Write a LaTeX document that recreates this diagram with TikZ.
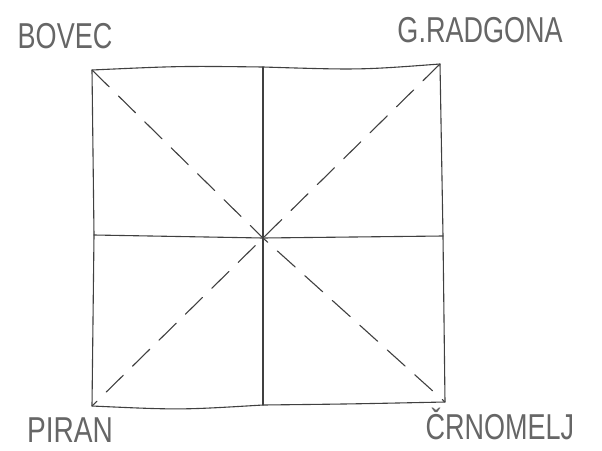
\documentclass[tikz,border=0pt]{standalone}
\usepackage{fontspec}
\setmainfont{Liberation Sans}
\begin{document}
\begin{tikzpicture}[x=1pt,y=-1pt,
  edge/.style={draw=black!75,line width=1.1pt,line cap=round,line join=round},
  diag/.style={draw=black!75,line width=1.1pt,dash pattern=on 24pt off 13pt,line cap=round},
  town/.style={text=black!60,font=\fontsize{36}{36}\selectfont,inner sep=0pt}]
\useasboundingbox[fill=white] (0,0) rectangle (602,450);
\coordinate (tl) at (92,70);
\coordinate (tr) at (440,64);
\coordinate (bl) at (92,406);
\coordinate (br) at (445,402);
\coordinate (c) at (263,238);
\coordinate (tm) at (263,67);
\coordinate (bm) at (263,405);
\coordinate (lm) at (94,235);
\coordinate (rm) at (443,236);
% square
\draw[edge] (tl) .. controls (180,66) .. (tm) .. controls (360,70) .. (tr)
  -- (rm) -- (br) .. controls (350,404) .. (bm) .. controls (180,410) .. (bl) -- (lm) -- cycle;
\draw[edge] (tm) -- (c) -- (bm);
\draw[edge] (lm) -- (c) -- (rm);
\draw[diag] (tl) -- (c) -- (br);
\draw[diag] (tr) -- (c) -- (bl);
\node[town,xscale=0.75] (bovec) at (65,36) {BOVEC};
\node[town,xscale=0.75] (radgona) at (480,30) {G.RADGONA};
\node[town,xscale=0.78] (piran) at (70,430) {PIRAN};
\node[town,xscale=0.75] (crnomelj) at (500,424) {ČRNOMELJ};
\end{tikzpicture}
\end{document}
